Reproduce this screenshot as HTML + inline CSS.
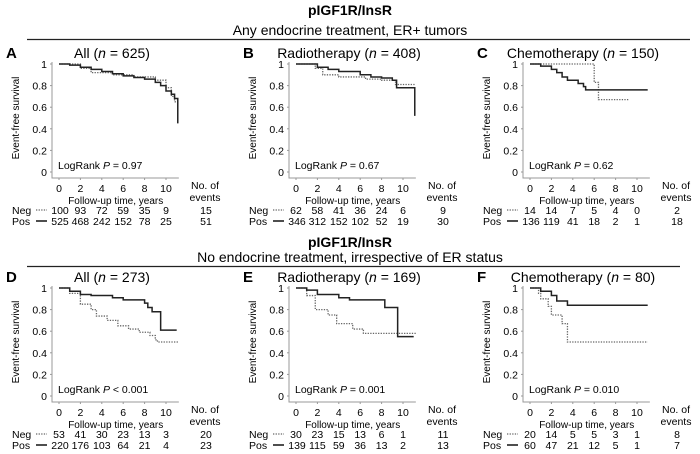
<!DOCTYPE html>
<html><head><meta charset="utf-8"><style>
body{margin:0;background:#fff}
svg{font-family:"Liberation Sans",Arial,sans-serif;display:block}
</style></head><body>
<svg id="fig" width="700" height="454" viewBox="0 0 700 454">
<text x="350" y="15" text-anchor="middle" font-size="14" font-weight="bold">pIGF1R/InsR</text>
<text x="350" y="35" text-anchor="middle" font-size="14">Any endocrine treatment, ER+ tumors</text>
<line x1="27" y1="39.5" x2="690" y2="39.5" stroke="#222" stroke-width="1.2"/>
<text x="350" y="247" text-anchor="middle" font-size="14" font-weight="bold">pIGF1R/InsR</text>
<text x="350" y="262" text-anchor="middle" font-size="14">No endocrine treatment, irrespective of ER status</text>
<line x1="27" y1="266.5" x2="680" y2="266.5" stroke="#222" stroke-width="1.2"/>
</svg>
<script>
// ---- data ----
const panelLetters = ["A","B","C","D","E","F"];
const panelTitles = ["All","Radiotherapy","Chemotherapy","All","Radiotherapy","Chemotherapy"];
const panelN = [625,408,150,273,169,80];
const pValues = ["= 0.97","= 0.67","= 0.62","< 0.001","= 0.001","= 0.010"];
const xTicks = [0,2,4,6,8,10];
const yTicks = [0,0.2,0.4,0.6,0.8,1];
const yTickLabels = ["0","0.2","0.4","0.6","0.8","1"];
const negAtRisk = [[100,93,72,59,35,9],[62,58,41,36,24,6],[14,14,7,5,4,0],[53,41,30,23,13,3],[30,23,15,13,6,1],[20,14,5,5,3,1]];
const posAtRisk = [[525,468,242,152,78,25],[346,312,152,102,52,19],[136,119,41,18,2,1],[220,176,103,64,21,4],[139,115,59,36,13,2],[60,47,21,12,5,1]];
const negEvents = [15,9,2,20,11,8];
const posEvents = [51,30,18,23,13,7];
// survival curves: times and values (step functions); last time = end of follow-up
const posTimes = [
 [0,1,2,3,4,5,6,7,8,9,9.5,10,10.5,10.8,11.1,11.1],
 [0,2,3,4,6,7,8,9,9.4,11.1,11.1],
 [0,1,2,2.5,3,3.5,4.5,5,5.2,11],
 [0,1,2,3,5,6,8,8.3,8.7,9.5,11],
 [0,1,2,4,5,8.3,9.5,11],
 [0,1,2,2.5,3.5,11]];
const posSurv = [
 [1,0.99,0.97,0.95,0.93,0.91,0.89,0.875,0.86,0.83,0.8,0.75,0.72,0.68,0.68,0.45],
 [1,0.97,0.95,0.93,0.9,0.88,0.87,0.85,0.78,0.78,0.52],
 [1,0.98,0.95,0.92,0.88,0.85,0.82,0.79,0.76,0.76],
 [1,0.97,0.94,0.93,0.91,0.89,0.86,0.82,0.78,0.61,0.61],
 [1,0.98,0.94,0.91,0.89,0.82,0.55,0.55],
 [1,0.97,0.93,0.88,0.84,0.84]];
const negTimes = [
 [0,2,3,5,7,9,10,10.5,10.8,11],
 [0,1.8,2.5,4,6.5,8,9.3,11.1],
 [0,6,6.4,9.3],
 [0,1,2,3,3.5,4.5,5.5,6.5,7.5,8.5,9,9.2,11.2],
 [0,1,1.8,3,3.8,5.3,6.3,11.2],
 [0,0.8,1,1.7,2,3,3.5,11]];
const negSurv = [
 [1,0.96,0.92,0.9,0.88,0.85,0.78,0.7,0.65,0.65],
 [1,0.96,0.9,0.88,0.86,0.85,0.81,0.81],
 [1,0.83,0.67,0.67],
 [1,0.95,0.85,0.8,0.74,0.7,0.65,0.62,0.59,0.56,0.52,0.5,0.5],
 [1,0.93,0.8,0.75,0.67,0.62,0.58,0.58],
 [1,0.95,0.9,0.83,0.75,0.67,0.5,0.5]];

const svg = document.getElementById('fig');
const NS = 'http://www.w3.org/2000/svg';
function mk(tag, attrs, parent, txt){
  const e = document.createElementNS(NS, tag);
  for (const k in attrs) e.setAttribute(k, attrs[k]);
  if (txt !== undefined) e.textContent = txt;
  (parent||svg).appendChild(e);
  return e;
}
const offX = [0,237,471,0,237,471];
const offY = [0,0,0,224,224,224];
const FS = 10.5;

function stepPath(ts, vs, sx, sy){
  let d = 'M' + sx(ts[0]) + ',' + sy(vs[0]);
  for (let i=1;i<ts.length;i++){
    d += ' H' + sx(ts[i]) + ' V' + sy(vs[i]);
  }
  return d;
}

for (let p=0;p<6;p++){
  const ox = offX[p], oy = offY[p];
  const g = mk('g', {});
  
  
  const x0 = 59+ox, x10 = 166+ox, y1 = 64+oy, y0 = 172+oy;
  const sx = t => x0 + (x10-x0)*t/10;
  const sy = v => y0 - (y0-y1)*v;
  const letter = mk('text', {x:6+ox, y:58+oy, 'font-size':15, 'font-weight':'bold'}, g, panelLetters[p]);
  
  
  const title = mk('text', {x:112+ox, y:58+oy, 'text-anchor':'middle', 'font-size':14}, g);
  
  
  title.innerHTML = panelTitles[p] + ' (<tspan font-style="italic">n</tspan> = ' + panelN[p] + ')';
  // axes
  const ax = mk('path', {d:'M'+(x0-7)+','+(y1-2)+' V'+(y0+6)+' H'+sx(11.2), fill:'none', stroke:'#999', 'stroke-width':1}, g);
  
  
  yTicks.forEach((v,i)=>{
    mk('line', {x1:x0-9, x2:x0-7, y1:sy(v), y2:sy(v), stroke:'#999'}, g);
    const t = mk('text', {x:x0-12, y:sy(v)+4, 'text-anchor':'end', 'font-size':FS}, g, yTickLabels[i]);
    
    
  });
  xTicks.forEach(v=>{
    mk('line', {x1:sx(v), x2:sx(v), y1:y0+6, y2:y0+8, stroke:'#999'}, g);
    const t = mk('text', {x:sx(v), y:y0+20, 'text-anchor':'middle', 'font-size':FS}, g, String(v));
    
    
  });
  const yl = mk('text', {x:0, y:0, transform:'translate('+(19+ox)+','+(118+oy)+') rotate(-90)', 'text-anchor':'middle', 'font-size':10}, g, 'Event-free survival');
  
  
  const xl = mk('text', {x:sx(5.3), y:y0+32, 'text-anchor':'middle', 'font-size':10}, g, 'Follow-up time, years');
  
  
  const lr = mk('text', {x:x0-1, y:y0-3, 'font-size':FS}, g);
  
  
  lr.innerHTML = 'LogRank <tspan font-style="italic">P</tspan> ' + pValues[p];
  // curves
  const neg = mk('path', {d:stepPath(negTimes[p], negSurv[p], sx, sy), fill:'none', stroke:'#666', 'stroke-width':1.3, 'stroke-dasharray':'1.3,1.3'}, g);
  
  
  const pos = mk('path', {d:stepPath(posTimes[p], posSurv[p], sx, sy), fill:'none', stroke:'#222', 'stroke-width':1.5}, g);
  
  
  // events header
  const ev1 = mk('text', {x:205+ox, y:y0+17, 'text-anchor':'middle', 'font-size':FS}, g, 'No. of');
  
  
  mk('text', {x:205+ox, y:y0+29, 'text-anchor':'middle', 'font-size':FS}, g, 'events');
  // risk rows
  const rows = [['Neg', negAtRisk[p], negEvents[p], y0+42, true], ['Pos', posAtRisk[p], posEvents[p], y0+53, false]];
  rows.forEach(r=>{
    const lab = mk('text', {x:12+ox, y:r[3], 'font-size':FS}, g, r[0]);
    
    
    const ln = mk('line', {x1:36+ox, x2:47+ox, y1:r[3]-4, y2:r[3]-4, stroke:r[4]?'#666':'#222', 'stroke-width':r[4]?1.3:1.6, 'stroke-dasharray':r[4]?'1.3,1.3':'none'}, g);
    
    
    r[1].forEach((n,i)=>{
      const t = mk('text', {x:sx(xTicks[i]) + (i===0 && n>=100 ? 1 : 0), y:r[3], 'text-anchor':'middle', 'font-size':FS}, g, String(n));
      
      
    });
    const e = mk('text', {x:206+ox, y:r[3], 'text-anchor':'middle', 'font-size':FS}, g, String(r[2]));
    
    
  });
}
</script>
</body></html>
